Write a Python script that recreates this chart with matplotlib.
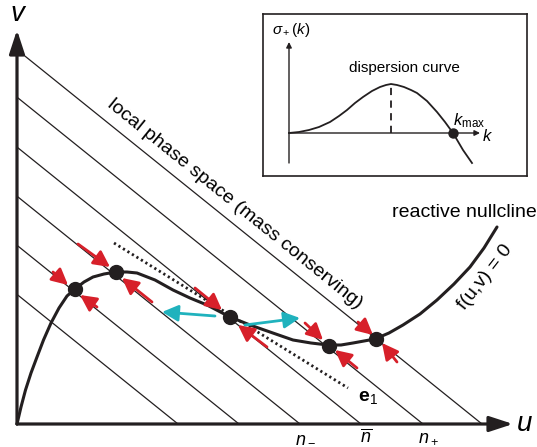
import numpy as np
import matplotlib
matplotlib.use("Agg")
import matplotlib.pyplot as plt

plt.rcParams['font.family'] = ['Liberation Sans', 'DejaVu Sans']
plt.rcParams['mathtext.fontset'] = 'custom'
plt.rcParams['mathtext.rm'] = 'Liberation Sans'
plt.rcParams['mathtext.it'] = 'Liberation Sans:italic'
plt.rcParams['mathtext.bf'] = 'Liberation Sans:bold'

# mass conserving lines u + v/slope = n  (u-intercepts)
n_values = [1.61, 2.22, 2.83, 3.44, 4.06, 4.65]
line_slope = 0.805
n_labels = [r'$n_-$', r'$\overline{n}$', r'$n_+$']
n_label_pos = [2.83, 3.44, 4.06]

# reactive nullcline f(u,v) = 0
null_u = [0.0, 0.04, 0.085, 0.14, 0.20, 0.265, 0.34, 0.42, 0.50, 0.58, 0.67, 0.76, 0.87, 0.99,
          1.10, 1.20, 1.38, 1.56, 1.73, 1.90, 2.13, 2.33, 2.53, 2.76, 2.94, 3.11, 3.24, 3.36,
          3.58, 3.72, 3.86, 4.03, 4.20, 4.37, 4.53, 4.67, 4.80]
null_v = [0.0, 0.17, 0.34, 0.51, 0.67, 0.84, 1.01, 1.16, 1.28, 1.35, 1.42, 1.47, 1.50, 1.52,
          1.52, 1.51, 1.44, 1.34, 1.26, 1.19, 1.07, 0.99, 0.92, 0.84, 0.81, 0.79, 0.79, 0.81,
          0.85, 0.91, 0.99, 1.10, 1.24, 1.40, 1.57, 1.76, 1.97]

# fixed points on the nullcline
dot_u = [0.58, 0.99, 2.13, 3.12, 3.59]
dot_v = [1.35, 1.52, 1.07, 0.78, 0.85]

# e1 eigenvector (dotted)
e1_u = [0.97, 3.31]
e1_v = [1.81, 0.36]

# red arrows (tail -> head)
red_tail = [(0.36, 1.52), (0.80, 1.17), (0.61, 1.80), (1.35, 1.22), (1.78, 1.36),
            (2.50, 0.77), (2.88, 1.01), (3.40, 0.56), (3.41, 1.02), (3.80, 0.62)]
red_head = [(0.51, 1.39), (0.63, 1.29), (0.93, 1.57), (1.05, 1.46), (2.05, 1.14),
            (2.21, 0.99), (3.06, 0.84), (3.18, 0.74), (3.56, 0.89), (3.65, 0.81)]

# cyan arrows (unstable direction)
cyan_tail = [(1.98, 1.08), (2.28, 0.99)]
cyan_head = [(1.45, 1.12), (2.83, 1.06)]

# inset: dispersion relation
disp_k = [0.0, 0.1, 0.2, 0.3, 0.41, 0.5, 0.58, 0.66, 0.74, 0.83, 0.91, 0.97, 1.02,
          1.08, 1.15, 1.22, 1.28, 1.38, 1.48, 1.56, 1.64, 1.74, 1.83]
disp_s = [0.0, 0.01, 0.03, 0.06, 0.11, 0.17, 0.23, 0.30, 0.36, 0.42, 0.46, 0.48, 0.49,
          0.48, 0.46, 0.43, 0.40, 0.32, 0.21, 0.11, 0.0, -0.17, -0.30]
k_peak = 1.02
s_peak = 0.49
k_max = 1.64

RED = '#d7202a'
CYAN = '#20b2bd'
INK = '#231f20'

fig = plt.figure(figsize=(5.37, 4.47), dpi=100)
ax = fig.add_axes([0, 0, 1, 1])
ax.set_xlim(-0.17, 5.20)
ax.set_ylim(-0.23, 4.24)
ax.axis('off')

# mass lines
for n in n_values:
    ax.plot([0, n], [line_slope * n, 0], color=INK, lw=0.9, zorder=1)

# axes
axis_arrow = dict(arrowstyle='-|>,head_length=0.55,head_width=0.18', lw=2.3,
                  color=INK, mutation_scale=26, shrinkA=0, shrinkB=0)
ax.annotate('', xy=(0, 3.94), xytext=(0, 0), arrowprops=axis_arrow, zorder=5)
ax.annotate('', xy=(4.96, 0), xytext=(0, 0), arrowprops=axis_arrow, zorder=5)
ax.text(0.0, 4.10, 'v', fontsize=20, style='italic', ha='center', va='center')
ax.text(5.08, 0.0, 'u', fontsize=20, style='italic', ha='center', va='center')

for lab, x in zip(n_labels, n_label_pos):
    ax.text(x + 0.05, -0.045, lab, fontsize=13, ha='center', va='top')

# nullcline and e1
ax.plot(null_u, null_v, color=INK, lw=2.2, zorder=3, solid_joinstyle='round',
        solid_capstyle='round')
ax.plot(e1_u, e1_v, color=INK, lw=2.0, ls=(0, (0.8, 1.1)), zorder=2)
ax.text(3.41, 0.27, r'$\mathbf{e}_1$', fontsize=14, ha='left', va='center')

# arrows
def arrow(t, h, col):
    ax.annotate('', xy=h, xytext=t,
                arrowprops=dict(arrowstyle='-|>,head_length=0.75,head_width=0.38',
                                lw=2.0, color=col, mutation_scale=13,
                                shrinkA=0, shrinkB=0), zorder=4)

for t, h in zip(red_tail, red_head):
    arrow(t, h, RED)
for t, h in zip(cyan_tail, cyan_head):
    arrow(t, h, CYAN)

ax.plot(dot_u, dot_v, 'o', color=INK, ms=10, zorder=6)

# labels
ax.text(2.18, 2.20, 'local phase space (mass conserving)', fontsize=14,
        rotation=-39, ha='center', va='center', rotation_mode='anchor')
ax.text(3.75, 2.12, 'reactive nullcline', fontsize=14, ha='left', va='center')
ax.text(4.68, 1.47, 'f(u,v) = 0', fontsize=14, rotation=52,
        ha='center', va='center', rotation_mode='anchor')

# inset
ax2 = fig.add_axes([263 / 537, 1 - 176 / 447, 264 / 537, 162 / 447])
ax2.set_xlim(-0.26, 2.38)
ax2.set_ylim(-0.43, 1.19)
ax2.set_xticks([])
ax2.set_yticks([])
for sp in ax2.spines.values():
    sp.set_linewidth(1.2)
    sp.set_color(INK)

inset_arrow = dict(arrowstyle='-|>', lw=1.0, color=INK, mutation_scale=8,
                   shrinkA=0, shrinkB=0)
ax2.annotate('', xy=(0, 0.91), xytext=(0, -0.30), arrowprops=inset_arrow)
ax2.annotate('', xy=(1.91, 0), xytext=(0, 0), arrowprops=inset_arrow)
ax2.plot(disp_k, disp_s, color=INK, lw=1.3, solid_joinstyle='round')
ax2.plot([k_peak, k_peak], [0, s_peak], color=INK, lw=1.3, ls=(0, (4, 3)))
ax2.plot([k_max], [0], 'o', color=INK, ms=6.5)
ax2.text(0.02, 1.03, r'$\sigma_+(k)$', fontsize=11, ha='center', va='center')
ax2.text(1.15, 0.65, 'dispersion curve', fontsize=11, ha='center', va='center')
ax2.text(1.64, 0.12, r'$k_{\rm max}$', fontsize=12, ha='left', va='center')
ax2.text(1.99, -0.03, r'$k$', fontsize=12, ha='center', va='center')

fig.savefig('out.png', dpi=100)
plt.close(fig)
